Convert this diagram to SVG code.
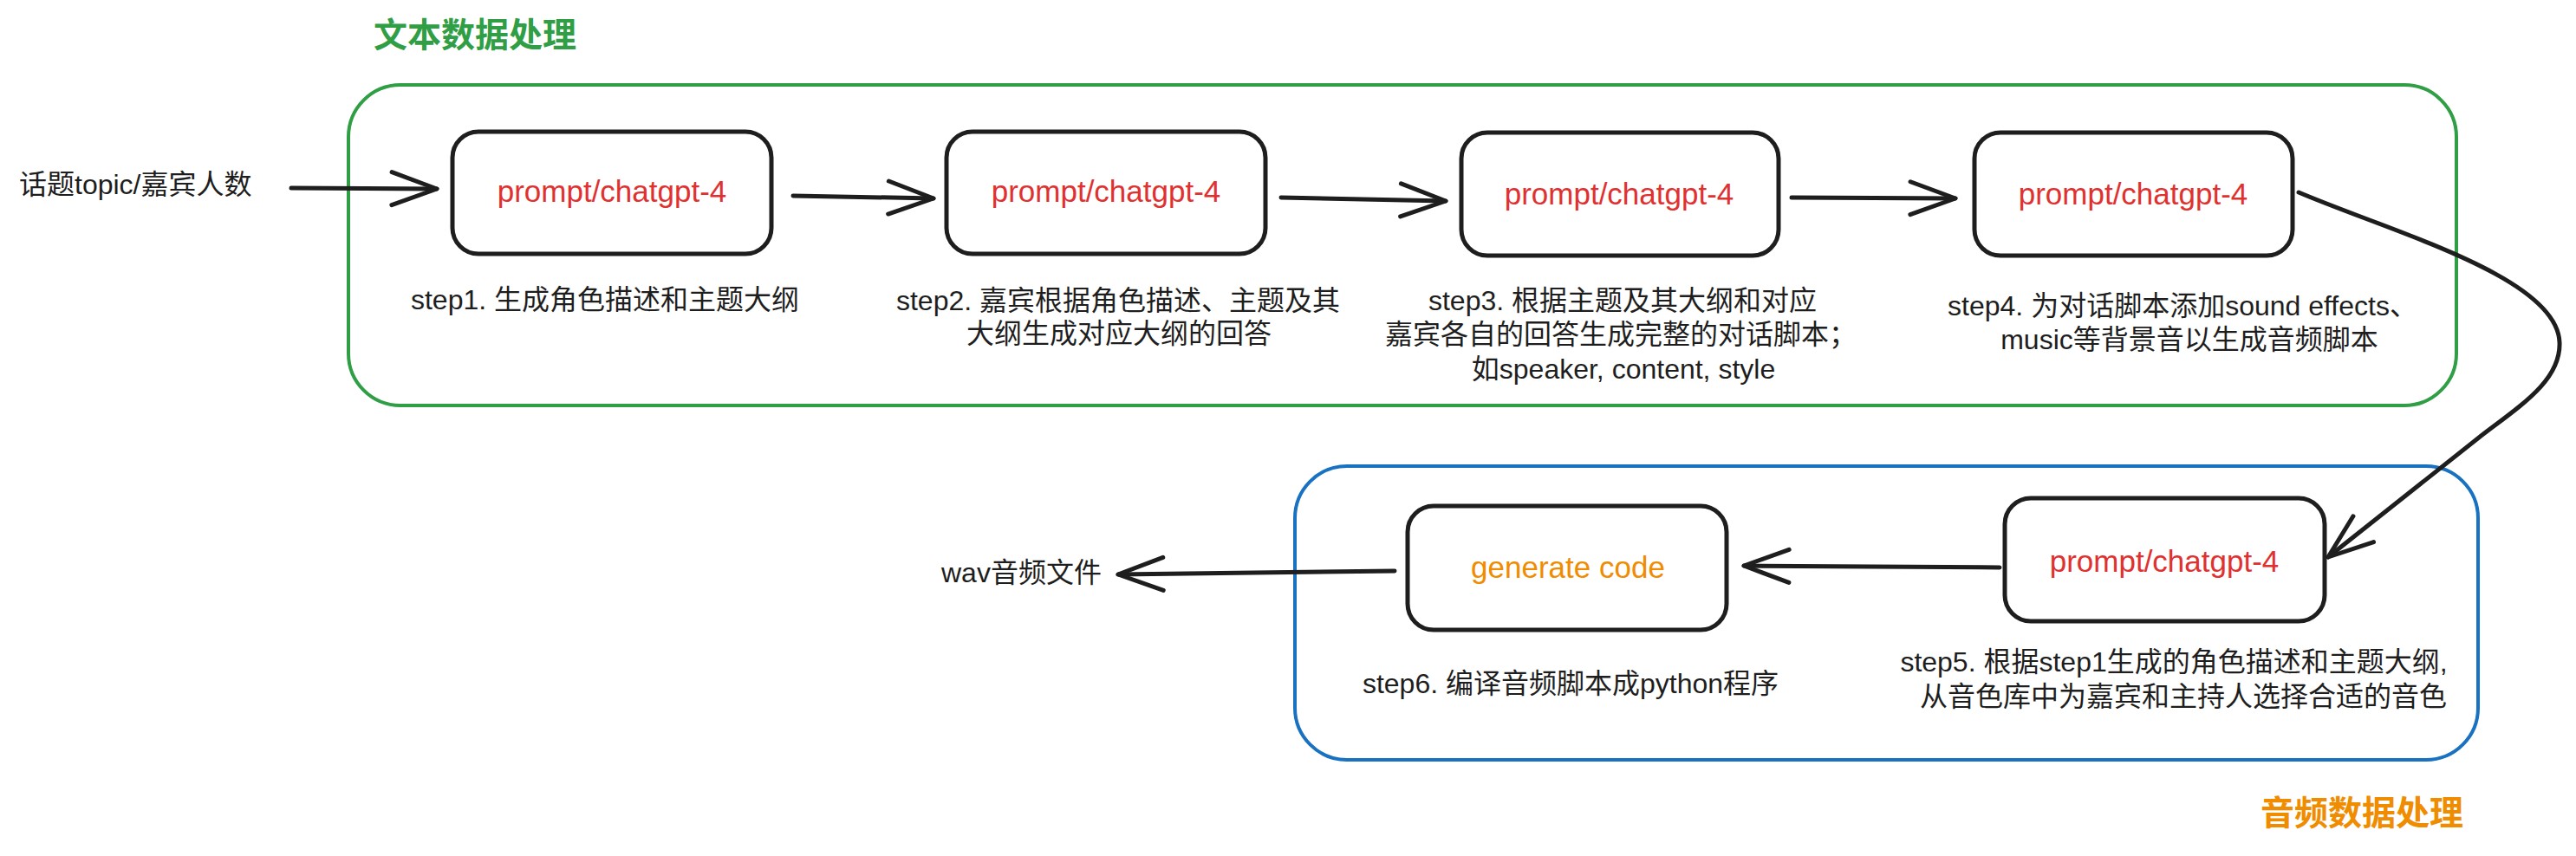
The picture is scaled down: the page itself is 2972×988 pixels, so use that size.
<svg xmlns="http://www.w3.org/2000/svg" width="2972" height="988" viewBox="0 0 2972 988">
<style>
  .bg { fill: #ffffff; }
  .grp-green { fill: none; stroke: #2f9e44; stroke-width: 4; }
  .grp-blue { fill: none; stroke: #1971c2; stroke-width: 4; }
  .node { fill: #ffffff; stroke: #1e1e1e; stroke-width: 5; }
  .conn { fill: none; stroke: #1e1e1e; stroke-width: 5; stroke-linecap: round; stroke-linejoin: round; }
  .t { font-family: "Liberation Sans", "Noto Sans CJK SC", sans-serif; }
  .lbl-red { fill: #e03131; font-size: 35px; text-anchor: middle; }
  .lbl-orange { fill: #f08c00; font-size: 35px; text-anchor: middle; }
  .cap { fill: #1e1e1e; font-size: 32px; text-anchor: middle; }
  .plain { fill: #1e1e1e; font-size: 32px; }
  .title-green { fill: #2f9e44; font-size: 39px; font-weight: bold; text-anchor: middle; }
  .title-orange { fill: #f08c00; font-size: 39px; font-weight: bold; text-anchor: middle; }
</style>
<defs>
  <marker id="arrow" viewBox="-60 -26 66 52" refX="0" refY="0" markerWidth="66" markerHeight="52" markerUnits="userSpaceOnUse" orient="auto">
    <path d="M-52,-19 L0,0 L-52,19" fill="none" stroke="#1e1e1e" stroke-width="5" stroke-linecap="round" stroke-linejoin="round"/>
  </marker>
</defs>
<rect class="bg" x="0" y="0" width="2972" height="988"/>

<g id="group-text">
  <rect class="grp-green" x="402" y="98" width="2432" height="370" rx="60" ry="60"/>
  <text class="t title-green" x="548" y="54">文本数据处理</text>
</g>
<g id="group-audio">
  <rect class="grp-blue" x="1494" y="538" width="1365" height="339" rx="60" ry="60"/>
  <text class="t title-orange" x="2725" y="952">音频数据处理</text>
</g>

<g id="input">
  <text class="t plain" x="22" y="224">话题topic/嘉宾人数</text>
</g>
<g id="output">
  <text class="t plain" x="1086" y="672">wav音频文件</text>
</g>

<g id="connectors">
  <path class="conn" d="M336,217 L504,218" marker-end="url(#arrow)"/>
  <path class="conn" d="M915,226 L1077,229" marker-end="url(#arrow)"/>
  <path class="conn" d="M1478,228 L1668,232" marker-end="url(#arrow)"/>
  <path class="conn" d="M2067,228 L2256,229" marker-end="url(#arrow)"/>
  <path class="conn" d="M2652,222 C2760,268 2950,320 2953,395 C2955,440 2905,470 2860,505 L2686,643" marker-end="url(#arrow)"/>
  <path class="conn" d="M2307,655 L2012,653" marker-end="url(#arrow)"/>
  <path class="conn" d="M1609,659 L1290,663" marker-end="url(#arrow)"/>
</g>

<g id="step1">
  <rect class="node" x="522" y="152" width="368" height="141" rx="30" ry="30"/>
  <text class="t lbl-red" x="706" y="233">prompt/chatgpt-4</text>
  <text class="t cap" x="698" y="357">step1. 生成角色描述和主题大纲</text>
</g>
<g id="step2">
  <rect class="node" x="1092" y="152" width="368" height="141" rx="30" ry="30"/>
  <text class="t lbl-red" x="1276" y="233">prompt/chatgpt-4</text>
  <text class="t cap" x="1290" y="358">step2. 嘉宾根据角色描述、主题及其</text>
  <text class="t cap" x="1291" y="396">大纲生成对应大纲的回答</text>
</g>
<g id="step3">
  <rect class="node" x="1686" y="153" width="366" height="142" rx="30" ry="30"/>
  <text class="t lbl-red" x="1868" y="236">prompt/chatgpt-4</text>
  <text class="t cap" x="1872" y="358">step3. 根据主题及其大纲和对应</text>
  <text class="t cap" x="1870" y="397">嘉宾各自的回答生成完整的对话脚本；</text>
  <text class="t cap" x="1873" y="437">如speaker, content, style</text>
</g>
<g id="step4">
  <rect class="node" x="2278" y="153" width="367" height="142" rx="30" ry="30"/>
  <text class="t lbl-red" x="2461" y="236">prompt/chatgpt-4</text>
  <text class="t cap" x="2518" y="364">step4. 为对话脚本添加sound effects、</text>
  <text class="t cap" x="2526" y="403">music等背景音以生成音频脚本</text>
</g>
<g id="step5">
  <rect class="node" x="2313" y="575" width="369" height="142" rx="30" ry="30"/>
  <text class="t lbl-red" x="2497" y="660">prompt/chatgpt-4</text>
  <text class="t cap" x="2508" y="775">step5. 根据step1生成的角色描述和主题大纲,</text>
  <text class="t cap" x="2519" y="815">从音色库中为嘉宾和主持人选择合适的音色</text>
</g>
<g id="step6">
  <rect class="node" x="1624" y="584" width="368" height="143" rx="30" ry="30"/>
  <text class="t lbl-orange" x="1809" y="667">generate code</text>
  <text class="t cap" x="1812" y="800">step6. 编译音频脚本成python程序</text>
</g>
</svg>
